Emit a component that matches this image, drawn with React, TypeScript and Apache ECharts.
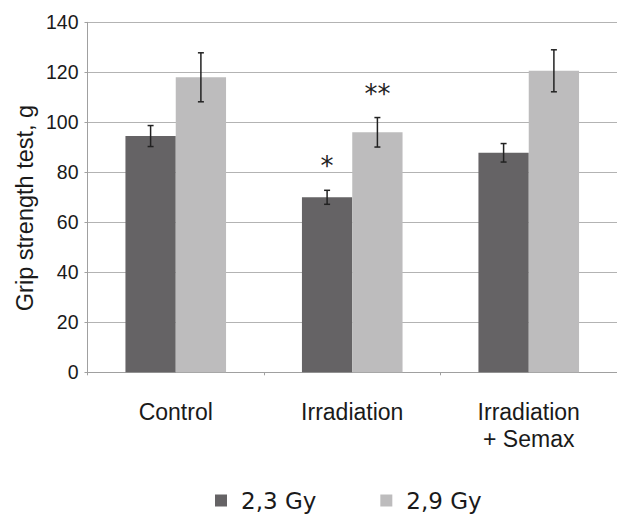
import React, { useEffect, useRef } from "react";
import * as echarts from "echarts";

const categories = ["Control", "Irradiation", "Irradiation\n+ Semax"];
const seriesNames = ["2,3 Gy", "2,9 Gy"];
const dose23 = [94.5, 70, 87.8];
const dose29 = [118, 96, 120.6];
const err23 = [4.2, 2.8, 3.7];
const err29 = [9.8, 5.9, 8.4];
const sig23 = ["", "*", ""];
const sig29 = ["", "**", ""];
const yTicks = { min: 0, max: 140, interval: 20 };

const DARK = "#656365";
const LIGHT = "#bdbcbd";
const GAP = 0.43;

function errSeries(vals: number[], errs: number[], sigs: string[], sign: number) {
  return {
    type: "custom",
    silent: true,
    z: 10,
    data: vals.map((v, i) => [i, v, errs[i]]),
    encode: { x: 0, y: 1 },
    renderItem: (params: any, api: any) => {
      const i = api.value(0);
      const v = api.value(1);
      const e = api.value(2);
      const band = api.size([1, 0])[0];
      const barW = (band * (1 - GAP)) / 2;
      const cx = api.coord([i, v])[0] + (sign * barW) / 2;
      const top = api.coord([i, v + e])[1];
      const bot = api.coord([i, v - e])[1];
      const st = { stroke: "#222", lineWidth: 1.5 };
      const children: any[] = [
        { type: "line", shape: { x1: cx, y1: top, x2: cx, y2: bot }, style: st },
        { type: "line", shape: { x1: cx - 3, y1: top, x2: cx + 3, y2: top }, style: st },
        { type: "line", shape: { x1: cx - 3, y1: bot, x2: cx + 3, y2: bot }, style: st },
      ];
      const s = sigs[params.dataIndex];
      if (s) {
        children.push({
          type: "text",
          x: cx,
          y: top - 24,
          style: {
            text: s,
            fill: "#222",
            font: "26px 'DejaVu Sans'",
            align: "center",
            verticalAlign: "middle",
          },
        });
      }
      return { type: "group", children };
    },
  };
}

export default function App() {
  const ref = useRef<HTMLDivElement>(null);
  useEffect(() => {
    if (!ref.current) return;
    const chart = echarts.init(ref.current, undefined, { renderer: "svg" });
    chart.setOption({
      animation: false,
      backgroundColor: "#ffffff",
      grid: { left: 87.5, right: -10, top: 22.3, bottom: 144.7, containLabel: false },
      legend: {
        data: seriesNames,
        left: 215,
        top: 489,
        padding: 0,
        icon: "rect",
        itemWidth: 12,
        itemHeight: 12,
        itemGap: 64,
        textStyle: {
          fontFamily: "DejaVu Sans",
          fontSize: 23,
          color: "#1a1a1a",
          padding: [0, 0, 0, 9],
        },
      },
      graphic: [
        {
          type: "text",
          x: 25,
          y: 208,
          rotation: Math.PI / 2,
          style: {
            text: "Grip strength test, g",
            font: "23.5px 'Liberation Sans'",
            fill: "#1a1a1a",
            align: "center",
            verticalAlign: "middle",
          },
        },
      ],
      xAxis: {
        type: "category",
        data: categories,
        axisLine: { show: true, lineStyle: { color: "#a0a0a0", width: 1 } },
        axisTick: { show: true, length: 3, lineStyle: { color: "#a0a0a0" } },
        axisLabel: {
          margin: 26,
          fontFamily: "Liberation Sans",
          fontSize: 23,
          lineHeight: 27,
          color: "#1a1a1a",
          interval: 0,
        },
      },
      yAxis: {
        type: "value",
        min: yTicks.min,
        max: yTicks.max,
        interval: yTicks.interval,
        axisLine: { show: true, lineStyle: { color: "#a0a0a0", width: 1 } },
        axisTick: { show: true, length: 3, lineStyle: { color: "#a0a0a0" } },
        splitLine: { show: true, lineStyle: { color: "#b3b3b3", width: 1 } },
        axisLabel: {
          margin: 9,
          fontFamily: "Liberation Sans",
          fontSize: 19.5,
          color: "#1a1a1a",
        },
      },
      series: [
        {
          name: seriesNames[0],
          type: "bar",
          data: dose23,
          barGap: "0%",
          barCategoryGap: GAP * 100 + "%",
          itemStyle: { color: DARK },
        },
        {
          name: seriesNames[1],
          type: "bar",
          data: dose29,
          barGap: "0%",
          barCategoryGap: GAP * 100 + "%",
          itemStyle: { color: LIGHT },
        },
        errSeries(dose23, err23, sig23, -1),
        errSeries(dose29, err29, sig29, 1),
      ],
    });
    return () => chart.dispose();
  }, []);
  return (
    <div
      ref={ref}
      style={{ position: "absolute", left: 0, top: 0, width: 617, height: 517 }}
    />
  );
}
